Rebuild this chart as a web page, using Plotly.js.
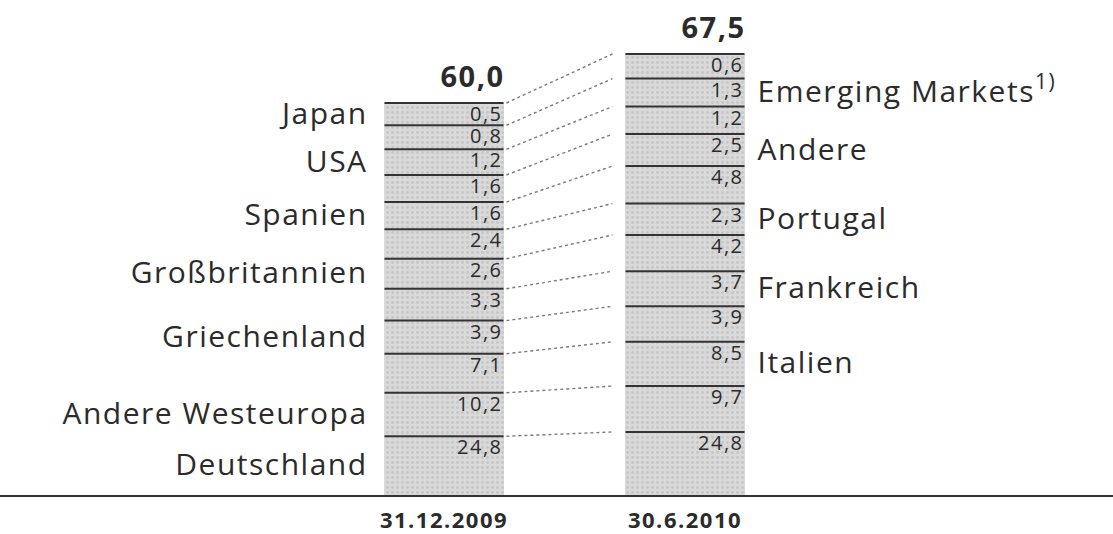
<!DOCTYPE html>
<html><head><meta charset="utf-8">
<script src="https://cdn.plot.ly/plotly-3.0.1.min.js"></script>
<style>
html,body{margin:0;padding:0;background:#fff}
#chart{width:1113px;height:534px}
#chart .textpoint text, #chart .xtick text{letter-spacing:1.5px}
</style>
</head><body><div id="chart"></div>
<script>
// Categories from the bottom of the stack to the top
const categories = ["Deutschland","Andere Westeuropa","Italien","Griechenland","Frankreich","Großbritannien","Portugal","Spanien","Andere","USA","Emerging Markets<sup>1)</sup>","Japan"];
const labelSide = ["L","L","R","L","R","L","R","L","R","L","R","L"];
const dates = ["31.12.2009","30.6.2010"];
const values2009 = [24.8,10.2,7.1,3.9,3.3,2.6,2.4,1.6,1.6,1.2,0.8,0.5];
const values2010 = [24.8,9.7,8.5,3.9,3.7,4.2,2.3,4.8,2.5,1.2,1.3,0.6];
const totals = [60.0, 67.5];

// The printed chart keeps each bar's total height proportional to its total,
// but spreads the segments on a compressed (sqrt-based) scale so small values stay legible.
const K = 1.92;
function displayHeights(vals, total){
  const w = vals.map(v => K + Math.sqrt(v));
  const s = w.reduce((a,b)=>a+b,0);
  return w.map(x => total * x / s);
}
function cum(arr){ let c=0; return arr.map(v => (c += v)); }
const fmt = v => v.toFixed(1).replace('.', ',');

const series = [values2009, values2010];
const disp = series.map((vals,b) => displayHeights(vals, totals[b]));
const tops = disp.map(cum);
const mids = disp.map((d,b) => d.map((h,i) => tops[b][i] - h/2));

const pxPerUnit = 392/60;
const px = p => p / pxPerUnit;   // pixel offset -> y units
const hw = 0.247;               // half bar width (x units)
const barColor = '#d9d9d9';
const txt = '#2b2b2b';
const FONT = 'Open Sans, Noto Sans, sans-serif';
const traces = [];

// stacked segments
categories.forEach((c,i) => {
  traces.push({
    type:'bar', x:[0,1], y:[disp[0][i], disp[1][i]], width:2*hw,
    name:c, text:[fmt(values2009[i]), fmt(values2010[i])], textposition:'none',
    hovertemplate: c.replace(/<sup>.*<\/sup>/,'') + ': %{text}<extra></extra>',
    marker:{color:barColor, line:{width:0},
      pattern:{shape:'.', fgcolor:'#c6c6c6', bgcolor:barColor, size:5, solidity:0.25}},
    showlegend:false
  });
});

// segment separator lines
[0,1].forEach(b => {
  const xs=[], ys=[];
  tops[b].forEach(t => { xs.push(b-hw, b+hw, null); ys.push(t, t, null); });
  traces.push({type:'scatter', mode:'lines', x:xs, y:ys, line:{color:'#333', width:2},
    hoverinfo:'skip', showlegend:false});
});

// dotted connectors between the bars
{
  const xs=[], ys=[];
  tops[0].forEach((t,i) => { xs.push(hw+0.012, 1-hw-0.054, null); ys.push(t, tops[1][i], null); });
  traces.push({type:'scatter', mode:'lines', x:xs, y:ys, line:{color:'#7a7a7a', width:1.4, dash:'dot'},
    hoverinfo:'skip', showlegend:false});
}

// value labels inside segments
[0,1].forEach(b => {
  traces.push({type:'scatter', mode:'text', x:tops[b].map(()=>b+hw-0.004), y:tops[b].map(t => t - px(3)),
    text:series[b].map(fmt), textposition:'bottom left',
    textfont:{family:FONT, size:20, color:txt}, hoverinfo:'skip', showlegend:false});
});

// totals
traces.push({type:'scatter', mode:'text', x:[hw+0.004, 1+hw+0.004], y:[tops[0][11] + px(9), tops[1][11] + px(9)],
  text:totals.map(fmt), textposition:'top left',
  textfont:{family:FONT, size:29, color:txt, weight:'bold'}, hoverinfo:'skip', showlegend:false});

// category labels
const lx=[], ly=[], lt=[], rx=[], ry=[], rt=[];
categories.forEach((c,i) => {
  if (labelSide[i]==='L'){ lx.push(-hw-0.07); ly.push(mids[0][i] - px(2)); lt.push(c); }
  else { rx.push(1+hw+0.054); ry.push(mids[1][i] - px(2)); rt.push(c); }
});
traces.push({type:'scatter', mode:'text', x:lx, y:ly, text:lt, textposition:'middle left',
  textfont:{family:FONT, size:30, color:txt}, hoverinfo:'skip', showlegend:false});
traces.push({type:'scatter', mode:'text', x:rx, y:ry, text:rt, textposition:'middle right',
  textfont:{family:FONT, size:30, color:txt}, hoverinfo:'skip', showlegend:false});

const layout = {
  width:1113, height:534, margin:{l:0, r:0, t:0, b:39},
  paper_bgcolor:'#fff', plot_bgcolor:'#fff',
  barmode:'stack', bargap:0,
  showlegend:false,
  xaxis:{range:[-444/241, -444/241 + 1113/241], showgrid:false, zeroline:false,
    showline:true, linecolor:'#333', linewidth:2,
    tickvals:[0,1], ticktext:dates, ticks:'', ticklabelstandoff:5,
    tickfont:{family:FONT, size:22, color:txt, weight:'bold'}, fixedrange:true},
  yaxis:{range:[0, 495/pxPerUnit], showgrid:false, zeroline:false, showline:false,
    showticklabels:false, ticks:'', fixedrange:true}
};
Plotly.newPlot('chart', traces, layout, {displayModeBar:false, responsive:false});
</script>
</body></html>
